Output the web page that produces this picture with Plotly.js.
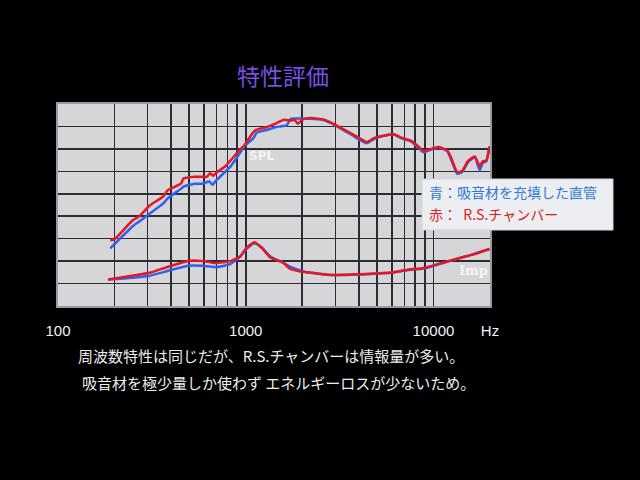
<!DOCTYPE html>
<html>
<head>
<meta charset="utf-8">
<script src="https://cdn.plot.ly/plotly-3.0.1.min.js"></script>
<style>
html,body{margin:0;padding:0;background:#000;}
#chart{width:640px;height:480px;}
</style>
</head>
<body>
<div id="chart"></div>
<script>
// ---- data (y in grid divisions 0..9) ----
const splRedFreq = [190,200,250,271,308,364,383,453,466,534,585,620,647,670,700,784,938,977,1101,1142,1288,1452,1525,1600,1741,1820,1894,2000,2189,2561,2890,3260,3676,4000,4405,4850,5470,6100,6720,7580,8250,8860,9640,10620,11830,12560,13360,14190,15250,16600,17620,18260,19110,19880];
const splRed     = [2.93,2.98,3.82,4.00,4.48,4.88,5.15,5.46,5.68,5.76,5.76,5.75,5.92,5.80,5.95,6.25,7.0,7.13,7.76,7.85,7.97,8.14,8.23,8.30,8.26,8.30,8.12,8.30,8.38,8.32,8.15,7.90,7.67,7.49,7.31,7.49,7.60,7.65,7.50,7.37,7.13,6.91,6.99,7.08,6.94,6.5,5.97,6.01,6.45,6.66,6.22,6.44,6.48,7.08];

const splBlueFreq = [190,250,271,308,364,383,453,466,534,585,640,664,700,826,938,977,1101,1142,1288,1452,1525,1650,1741,1894,2189,2561,2890,3260,3676,4000,4405,4850,5470,6100,6720,7580,8250,8860,9640,10620,11830,12560,13360,14190,15250,16600,17620,18260,19110,19880];
const splBlue     = [2.57,3.55,3.77,4.12,4.57,4.79,5.23,5.32,5.45,5.45,5.55,5.40,5.62,6.2,6.86,7.09,7.49,7.72,7.84,7.97,8.0,8.05,8.35,8.35,8.34,8.30,8.12,7.87,7.62,7.42,7.25,7.45,7.58,7.66,7.48,7.33,7.08,6.85,6.96,7.05,6.90,6.42,5.90,5.96,6.40,6.62,6.05,6.35,6.45,7.12];

const impRedFreq = [185,248,308,383,493,585,690,826,938,1012,1115,1213,1352,1580,1720,2010,2267,2890,4000,4850,5950,7300,8860,10880,13360,16170,19880];
const impRed     = [1.18,1.35,1.48,1.74,2.01,2.01,1.91,2.0,2.22,2.61,2.84,2.60,2.16,1.93,1.66,1.52,1.48,1.38,1.41,1.45,1.49,1.62,1.69,1.90,2.11,2.29,2.54];

const impBlueFreq = [185,248,308,383,493,585,690,826,938,1012,1115,1213,1352,1580,1720,2010,2267,2890,4000,4850,5950,7300,8860,10880,13360,16170,19880];
const impBlue     = [1.18,1.26,1.35,1.56,1.79,1.79,1.73,1.87,2.22,2.55,2.80,2.62,2.20,1.93,1.75,1.55,1.47,1.38,1.40,1.44,1.48,1.60,1.67,1.88,2.10,2.30,2.54];

const gridFreqs = [100,200,300,400,500,600,700,800,900,1000,2000,3000,4000,5000,6000,7000,8000,9000,10000,20000];
const gridLabels = ["100","","","","","","","","","1000","","","","","","","","","10000","Hz"];

const titleText = "特性評価";
const legendBlue = "青：吸音材を充填した直管";
const legendRed = "赤：  R.S.チャンバー";
const caption1 = "周波数特性は同じだが、R.S.チャンバーは情報量が多い。";
const caption2 = "吸音材を極少量しか使わず エネルギーロスが少ないため。";

const blueC = "#3060f0", redC = "#e8161e";
const jp = "Noto Sans CJK JP, sans-serif";

function ln(c){ return {color: c, width: 2.5, shape: "spline", smoothing: 0.5}; }
const traces = [
  {x: splBlueFreq, y: splBlue, mode: "lines", line: ln(blueC), hoverinfo: "skip"},
  {x: impBlueFreq, y: impBlue, mode: "lines", line: ln(blueC), hoverinfo: "skip"},
  {x: splRedFreq, y: splRed, mode: "lines", line: ln(redC), hoverinfo: "skip"},
  {x: impRedFreq, y: impRed, mode: "lines", line: ln(redC), hoverinfo: "skip"}
];

const layout = {
  width: 640, height: 480,
  paper_bgcolor: "#000", plot_bgcolor: "#d6d6d8",
  margin: {l: 58, r: 150, t: 104, b: 174},
  showlegend: false,
  font: {family: jp, color: "#fff"},
  title: {text: titleText, x: 0.442, xanchor: "center", y: 0.84, yanchor: "middle",
          font: {family: jp, size: 23, color: "#7a4ee0"}},
  xaxis: {type: "log", range: [Math.log10(100), Math.log10(20000)],
          tickvals: gridFreqs, ticktext: gridLabels,
          ticks: "outside", ticklen: 10, tickcolor: "rgba(0,0,0,0)",
          tickfont: {family: "Liberation Sans, Arial, sans-serif", size: 15, color: "#f2f2f2"},
          showgrid: true, gridcolor: "#2c2c34", gridwidth: 1.6,
          showline: true, linecolor: "#9a9aa4", linewidth: 2, mirror: true,
          zeroline: false, fixedrange: true},
  yaxis: {range: [0, 9], dtick: 1, tick0: 0, showticklabels: false, ticks: "",
          showgrid: true, gridcolor: "#2c2c34", gridwidth: 1.6,
          showline: true, linecolor: "#9a9aa4", linewidth: 2, mirror: true,
          zeroline: false, fixedrange: true},
  shapes: [
    {type: "rect", xref: "paper", yref: "paper", x0: 364/432, x1: 555/432,
     y0: (306-230)/202, y1: (306-179)/202,
     fillcolor: "#eceef2", line: {color: "#d0d4dc", width: 1}, layer: "above"}
  ],
  annotations: [
    {xref: "paper", yref: "paper", x: 369/432, y: (306-192)/202, xanchor: "left", yanchor: "middle",
     text: legendBlue, showarrow: false, font: {family: jp, size: 14, color: "#2f7ad8"}},
    {xref: "paper", yref: "paper", x: 369/432, y: (306-214)/202, xanchor: "left", yanchor: "middle",
     text: legendRed, showarrow: false, font: {family: jp, size: 14, color: "#e01818"}},
    {xref: "paper", yref: "paper", x: 203/432, y: (306-156)/202, xanchor: "center", yanchor: "middle",
     text: "<b>SPL</b>", showarrow: false, font: {family: "DejaVu Sans, sans-serif", size: 12, color: "#f4f4f4"}},
    {xref: "paper", yref: "paper", x: 415/432, y: (306-270)/202, xanchor: "center", yanchor: "middle",
     text: "<b>Imp</b>", showarrow: false, font: {family: "DejaVu Serif, serif", size: 13, color: "#f4f4f4"}},
    {xref: "paper", yref: "paper", x: 18/432, y: (306-355)/202, xanchor: "left", yanchor: "middle",
     text: caption1, showarrow: false, font: {family: jp, size: 15, color: "#ececec"}},
    {xref: "paper", yref: "paper", x: 22/432, y: (306-382)/202, xanchor: "left", yanchor: "middle",
     text: caption2, showarrow: false, font: {family: jp, size: 15, color: "#ececec"}}
  ]
};

Plotly.newPlot("chart", traces, layout, {displayModeBar: false, staticPlot: true});
</script>
</body>
</html>
